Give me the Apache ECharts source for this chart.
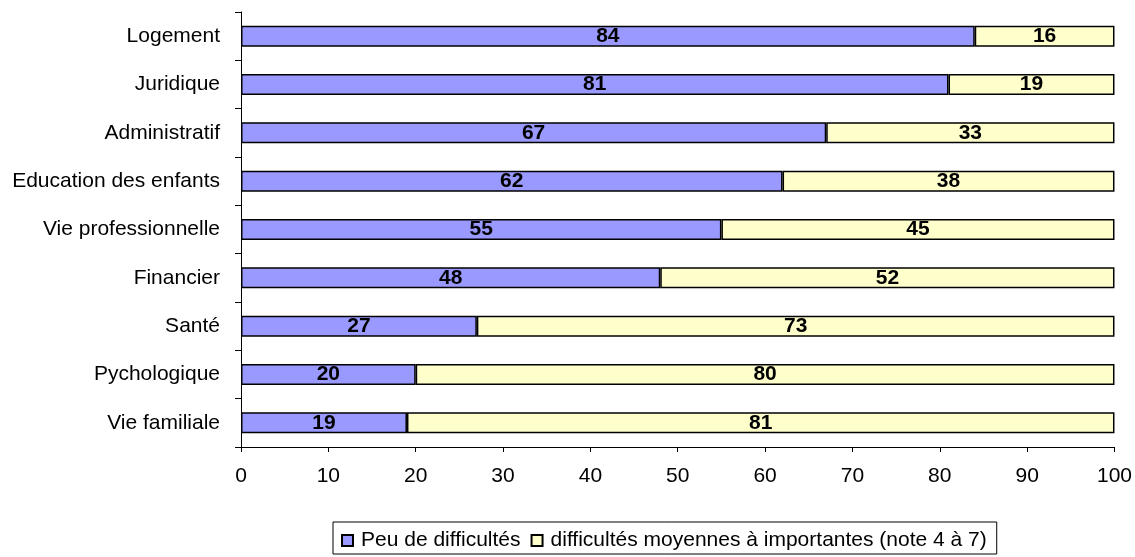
<!DOCTYPE html>
<html><head><meta charset="utf-8">
<script src="https://cdn.jsdelivr.net/npm/echarts@6/dist/echarts.min.js"></script>
<style>html,body{margin:0;padding:0;background:#fff}#c{width:1135px;height:557px}</style>
</head><body><div id="c"></div>
<script>
const categories = ["Vie familiale","Pychologique","Santé","Financier","Vie professionnelle","Education des enfants","Administratif","Juridique","Logement"];
const peu = [19,20,27,48,55,62,67,81,84];
const moyennes = [81,80,73,52,45,38,33,19,16];
const xTicks = [0,10,20,30,40,50,60,70,80,90,100];
const seriesNames = ["Peu de difficultés","difficultés moyennes à importantes (note 4 à 7)"];

const font = 'Arial, "Liberation Sans", sans-serif';
const chart = echarts.init(document.getElementById('c'));
chart.setOption({
  animation:false,
  backgroundColor:'#fff',
  grid:{left:241,right:20,top:12,bottom:110},
  xAxis:{type:'value',min:xTicks[0],max:xTicks[xTicks.length-1],interval:10,
    axisLine:{show:true,lineStyle:{color:'#000',width:1}},
    axisTick:{show:true,inside:false,length:5,lineStyle:{color:'#000'}},
    splitLine:{show:false},
    axisLabel:{color:'#000',fontSize:21,fontFamily:font,margin:19}},
  yAxis:{type:'category',data:categories,
    axisLine:{show:true,lineStyle:{color:'#000',width:1}},
    axisTick:{show:true,length:6,alignWithLabel:false,lineStyle:{color:'#000'}},
    axisLabel:{color:'#000',fontSize:21,fontFamily:font,margin:21}},
  legend:{left:333,top:522,icon:'rect',itemWidth:11,itemHeight:11,itemGap:10,
    borderColor:'#000',borderWidth:1,padding:[8,10,3,8],
    textStyle:{color:'#000',fontSize:21,fontFamily:font,padding:[0,0,0,3]},
    data:seriesNames},
  series:[
    {name:seriesNames[0],type:'bar',stack:'a',data:peu,barWidth:21,
     itemStyle:{color:'#9999FF',borderColor:'#000',borderWidth:1.5},
     label:{show:true,position:'inside',color:'#000',fontWeight:'bold',fontSize:21,fontFamily:font}},
    {name:seriesNames[1],type:'bar',stack:'a',data:moyennes,barWidth:21,
     itemStyle:{color:'#FFFFCC',borderColor:'#000',borderWidth:1.5},
     label:{show:true,position:'inside',color:'#000',fontWeight:'bold',fontSize:21,fontFamily:font}}
  ]
});
</script></body></html>
